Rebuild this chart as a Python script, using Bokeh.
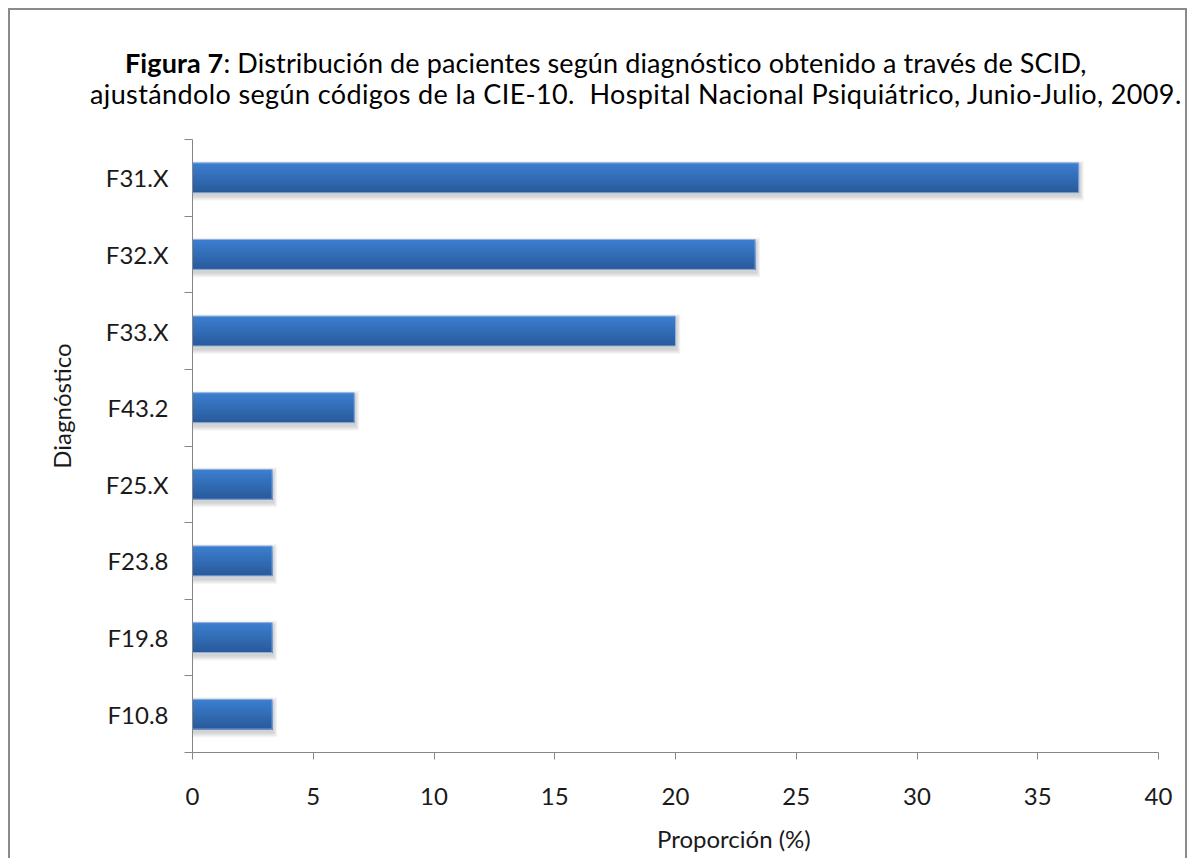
from bokeh.plotting import figure
from bokeh.models import Range1d, FixedTicker, Div
from bokeh.layouts import column
from bokeh.embed import file_html
from bokeh.resources import INLINE

# Diagnoses (ICD-10 codes), top to bottom, and their share of patients (%)
categories = ["F31.X", "F32.X", "F33.X", "F43.2", "F25.X", "F23.8", "F19.8", "F10.8"]
values = [36.7, 23.3, 20.0, 6.7, 3.3, 3.3, 3.3, 3.3]
x_ticks = [0, 5, 10, 15, 20, 25, 30, 35, 40]

heading_bold = "Figura 7"
heading_line1 = ": Distribución de pacientes según diagnóstico obtenido a través de SCID,"
heading_line2 = "ajustándolo según códigos de la CIE-10.&nbsp; Hospital Nacional Psiquiátrico, Junio-Julio, 2009."
x_title = "Proporción (%)"
y_title = "Diagnóstico"

W, H = 1188, 858
HEAD = 124                      # height of the heading block
LEFT, RIGHT, TOP, BOTTOM = 192, 1158, 139, 752
FONT = "Lato"
TEXT = "#1a1a1a"
AXIS = "#868686"
NBSP = "\u00a0"

heading = Div(
    width=W, height=HEAD, margin=0,
    text=(f'<div style="padding-top:47px;font-family:{FONT};font-size:27px;'
          f'line-height:31px;color:#000;white-space:nowrap">'
          f'<div style="margin-left:125px;letter-spacing:0.12px"><b>{heading_bold}</b>{heading_line1}</div>'
          f'<div style="margin-left:90px;letter-spacing:0.38px">{heading_line2}</div></div>'),
)

p = figure(width=W, height=H - HEAD, output_backend="svg", toolbar_location=None,
           x_range=Range1d(0, 40), y_range=Range1d(0, len(categories)),
           min_border_left=LEFT, min_border_right=W - RIGHT,
           min_border_top=TOP - HEAD, min_border_bottom=H - BOTTOM, margin=0)
p.outline_line_color = None
p.xgrid.visible = False
p.ygrid.visible = False
p.background_fill_color = "white"
p.border_fill_color = None

n = len(categories)
ypos = [n - 0.5 - i for i in range(n)]
px_y = n / (BOTTOM - TOP)
px_x = 40 / (RIGHT - LEFT)
bar_h = 0.39

# soft drop shadow under each bar
for k in range(1, 6):
    p.hbar(y=[y - 3 * px_y for y in ypos], left=0,
           right=[v + (1 + k * 0.8) * px_x for v in values],
           height=bar_h + 2 * k * px_y,
           fill_color="#000000", fill_alpha=0.035, line_color=None)

# vertical gradient on the bars: nested strips, each reaching the bar's bottom edge
top_rgb = (60, 127, 208)
bot_rgb = (41, 90, 155)
N = 24
for s in range(N):
    t = s / (N - 1)
    c = tuple(round(a + (b - a) * t) for a, b in zip(top_rgb, bot_rgb))
    color = "#%02x%02x%02x" % c
    top_off = bar_h / 2 - s * bar_h / N
    h = top_off + bar_h / 2
    p.hbar(y=[y - bar_h / 2 + h / 2 for y in ypos], left=0, right=values,
           height=h, fill_color=color, line_color=None)

p.hbar(y=ypos, left=0, right=values, height=bar_h, fill_color=None,
       line_color="#8fb0de", line_width=1)

# x axis (title sits right of the axis centre)
ax = p.xaxis[0]
ax.ticker = FixedTicker(ticks=x_ticks)
ax.axis_line_color = AXIS
ax.major_tick_line_color = AXIS
ax.major_tick_out = 7
ax.major_tick_in = 0
ax.minor_tick_line_color = None
ax.major_label_standoff = 28
ax.major_label_text_font = FONT
ax.major_label_text_font_size = "24px"
ax.major_label_text_color = TEXT
ax.axis_label = NBSP * 19 + x_title
ax.axis_label_standoff = 16
ax.axis_label_text_font = FONT
ax.axis_label_text_font_size = "24px"
ax.axis_label_text_font_style = "normal"
ax.axis_label_text_color = TEXT

# y axis: category names centred on each bar, tick marks between categories
ay = p.yaxis[0]
ay.ticker = FixedTicker(ticks=ypos, minor_ticks=list(range(n + 1)))
ay.major_label_overrides = {y: c for y, c in zip(ypos, categories)}
ay.axis_line_color = AXIS
ay.major_tick_line_color = None
ay.major_tick_out = 0
ay.major_tick_in = 0
ay.minor_tick_line_color = AXIS
ay.minor_tick_out = 8
ay.minor_tick_in = 0
ay.major_label_standoff = 16
ay.major_label_text_font = FONT
ay.major_label_text_font_size = "24px"
ay.major_label_text_color = TEXT
ay.axis_label = NBSP * 13 + y_title      # title sits above the axis centre
ay.axis_label_standoff = 27
ay.axis_label_text_font = FONT
ay.axis_label_text_font_size = "24px"
ay.axis_label_text_font_style = "normal"
ay.axis_label_text_color = TEXT

# thin grey frame round the whole chart (left, top and right edges)
layout = column(heading, p, spacing=0, margin=0, styles={
    "background-color": "white",
    "background-image": ("linear-gradient(#8a8a8a,#8a8a8a), "
                         "linear-gradient(#8a8a8a,#8a8a8a), "
                         "linear-gradient(#8a8a8a,#8a8a8a)"),
    "background-size": "2px 100%, 1179px 2px, 2px 100%",
    "background-position": "8px 8px, 8px 8px, 1185px 8px",
    "background-repeat": "no-repeat",
})

open("out.html", "w").write(file_html(layout, INLINE))
